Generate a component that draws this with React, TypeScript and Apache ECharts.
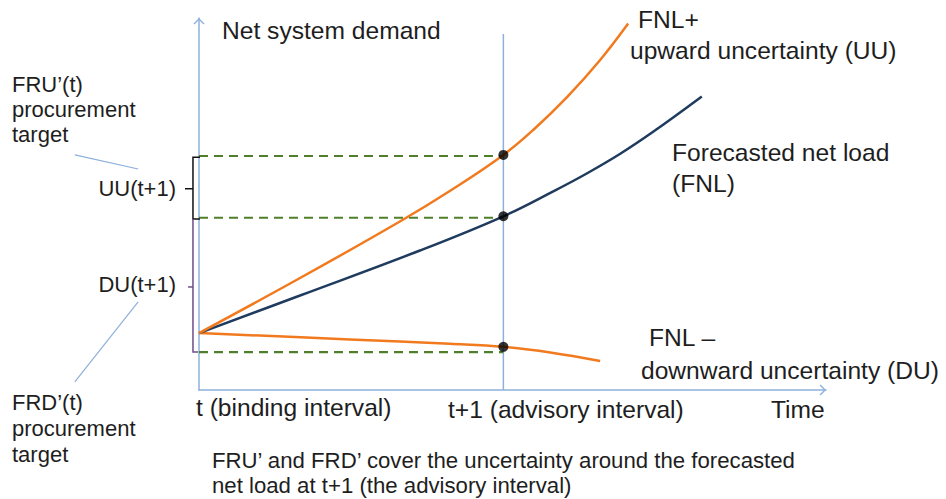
import React, { useEffect, useRef } from "react";
import * as echarts from "echarts";

// ---- data (value space: x = time, y = net system demand) ----
const fnlUpper: [number, number][] = [
  [0, 1.53], [1.66, 3.01], [3.3, 4.53], [4.12, 5.35], [5, 6.32], [5.49, 6.99], [6.05, 7.88], [6.59, 8.87], [7.05, 9.85],
];
const fnl: [number, number][] = [
  [0, 1.53], [1.66, 2.54], [3.63, 3.75], [5, 4.67], [5.82, 5.34], [6.37, 5.82], [6.92, 6.35], [7.46, 6.94], [8.26, 7.89],
];
const fnlLower: [number, number][] = [
  [0, 1.53], [2.48, 1.36], [4.12, 1.24], [5, 1.16], [5.77, 1.01], [6.59, 0.78],
];
const advisoryX = 5;
const advisoryTop = 9.57;
const dotPoints: [number, number][] = [[5, 6.32], [5, 4.67], [5, 1.16]];
const dashLevels = [6.29, 4.63, 1.02];

// annotation strokes (value space, left of the demand axis)
const uuBracket: [number, number][] = [[0.016, 6.26], [-0.099, 6.26], [-0.099, 4.6], [0.016, 4.6]];
const uuTick: [number, number][] = [[-0.099, 5.41], [-0.23, 5.41]];
const duBracket: [number, number][] = [[-0.099, 4.6], [-0.099, 1.02], [-0.016, 1.02]];
const duTick: [number, number][] = [[-0.099, 2.77], [-0.18, 2.77]];
const fruLeader: [number, number][] = [[-2.04, 6.32], [-1.0, 5.94]];
const frdLeader: [number, number][] = [[-1.0, 2.37], [-2.04, 0.22]];

const xMax = 10.3;
const yMax = 10;

const ORANGE = "#f27a1e";
const NAVY = "#1f3b5e";
const AXIS = "#8db0dc";
const GREEN = "#4f7f2b";
const PURPLE = "#6e4e8c";
const TEXT = "#1e1e1e";
const FONT = '"Liberation Sans", Arial, sans-serif';

const CHEVRON = "path://M0,9 L9,0 L18,9 L16.4,10.6 L9,3.2 L1.6,10.6 Z";

function txt(x: number, y: number, text: string, size: number, align = "left") {
  return {
    type: "text",
    x,
    y,
    silent: true,
    style: {
      text,
      font: `${size}px ${FONT}`,
      fill: TEXT,
      align,
      textAlign: align,
      verticalAlign: "middle",
      textVerticalAlign: "middle",
    },
  };
}

function seg(data: [number, number][], color: string, width: number, z: number, type: any = "solid") {
  return {
    type: "line",
    data,
    silent: true,
    showSymbol: false,
    symbol: "none",
    z,
    lineStyle: { color, width, type },
  };
}

export default function App() {
  const ref = useRef<HTMLDivElement>(null);
  useEffect(() => {
    if (!ref.current) return;
    const chart = echarts.init(ref.current, undefined, { renderer: "svg" });
    const axisCommon = {
      type: "value",
      axisLine: {
        show: true,
        onZero: false,
        symbol: ["none", CHEVRON],
        symbolSize: [11, 7],
        symbolOffset: [0, -3.2],
        lineStyle: { color: AXIS, width: 1.5 },
      },
      axisTick: { show: false },
      axisLabel: { show: false },
      splitLine: { show: false },
    };
    chart.setOption({
      animation: false,
      backgroundColor: "#ffffff",
      grid: { left: 199, top: 18, width: 627, height: 372 },
      xAxis: { ...axisCommon, min: 0, max: xMax },
      yAxis: { ...axisCommon, min: 0, max: yMax },
      series: [
        seg([[advisoryX, 0], [advisoryX, advisoryTop]], AXIS, 1.5, 1),
        ...dashLevels.map((lv) => seg([[0, lv], [advisoryX, lv]], GREEN, 2.2, 2, [9, 6])),
        { ...seg(fnlLower, ORANGE, 2.5, 3), smooth: 0.4 },
        { ...seg(fnl, NAVY, 2.5, 3), smooth: 0.4 },
        { ...seg(fnlUpper, ORANGE, 2.5, 3), smooth: 0.4 },
        {
          type: "scatter",
          data: dotPoints,
          symbolSize: 10,
          silent: true,
          z: 6,
          itemStyle: { color: "#000000" },
        },
      ],
    });

    const toPx = (pts: [number, number][]) =>
      pts.map((p) => chart.convertToPixel({ xAxisIndex: 0, yAxisIndex: 0 }, p) as number[]);
    const stroke = (pts: [number, number][], color: string, width: number) => ({
      type: "polyline",
      silent: true,
      z: 10,
      shape: { points: toPx(pts) },
      style: { stroke: color, lineWidth: width, fill: "none" },
    });

    chart.setOption({
      graphic: [
        stroke(uuBracket, "#111111", 1.5),
        stroke(uuTick, "#111111", 1.5),
        stroke(duBracket, PURPLE, 1.5),
        stroke(duTick, PURPLE, 1.5),
        stroke(fruLeader, AXIS, 1.2),
        stroke(frdLeader, AXIS, 1.2),
        txt(222, 30, "Net system demand", 24.6),
        txt(638, 19, "FNL+", 24.6),
        txt(630, 50, "upward uncertainty (UU)", 24.6),
        txt(672, 152, "Forecasted net load", 24.6),
        txt(672, 183, "(FNL)", 24.6),
        txt(649, 337, "FNL \u2013", 24.6),
        txt(641, 370, "downward uncertainty (DU)", 24.6),
        txt(196, 407, "t (binding interval)", 24.6),
        txt(448, 409, "t+1 (advisory interval)", 24.6),
        txt(771, 409, "Time", 24.6),
        txt(12, 84, "FRU\u2019(t)", 22),
        txt(12, 109, "procurement", 22),
        txt(12, 134, "target", 22),
        txt(176, 188, "UU(t+1)", 22, "right"),
        txt(176, 284, "DU(t+1)", 22, "right"),
        txt(12, 402, "FRD\u2019(t)", 22),
        txt(12, 428, "procurement", 22),
        txt(12, 454, "target", 22),
        txt(212, 460, "FRU\u2019 and FRD\u2019 cover the uncertainty around the forecasted", 22.2),
        txt(212, 485, "net load at t+1 (the advisory interval)", 22.2),
      ],
    });
    return () => chart.dispose();
  }, []);
  return (
    <div
      ref={ref}
      style={{ position: "absolute", left: 0, top: 0, width: 946, height: 499, background: "#fff" }}
    />
  );
}
